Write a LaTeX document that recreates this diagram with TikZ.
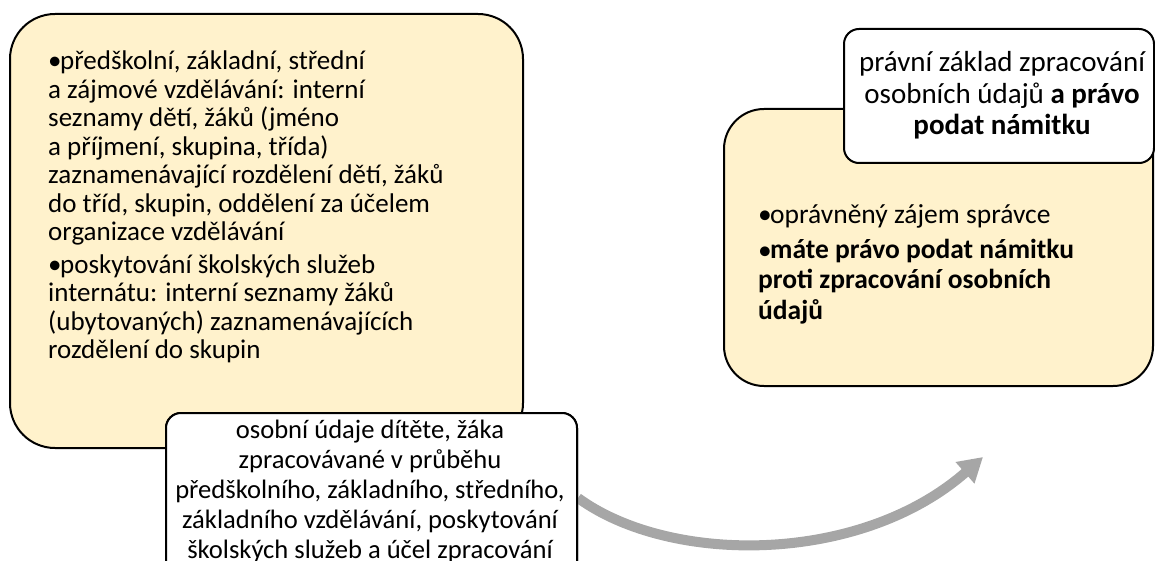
\documentclass[tikz,border=0pt]{standalone}
\usepackage{fontspec}
\setmainfont{Carlito}
\usetikzlibrary{arrows.meta}
\definecolor{beige}{HTML}{FFF2CC}
\definecolor{arrowgray}{HTML}{A6A6A6}
\newcommand{\bitem}[2]{\par\noindent\hangindent=#1\hangafter=1\makebox[#1][l]{•}#2\par}
\begin{document}
\begin{tikzpicture}[x=1pt,y=-1pt,
  beigebox/.style={draw=black, line width=2pt, fill=beige, rounded corners=45pt, inner sep=0pt, anchor=north west},
  whitebox/.style={draw=black, line width=2pt, fill=white, rounded corners=15pt, inner sep=0pt, anchor=north west},
  txt/.style={inner sep=0pt, anchor=base west},
  ctxt/.style={inner sep=0pt, anchor=base},
  grayarrow/.style={draw=arrowgray, line width=10pt, -{Triangle[width=27pt,length=24pt]}}]
\useasboundingbox (0,0) rectangle (1155,561);
\clip (0,0) rectangle (1155,561);
% left beige box
\node[beigebox, minimum width=513pt, minimum height=434pt] (lb) at (9,13) {};
\node[txt] (ltext) at (48,70) {\parbox[t]{470pt}{\raggedright\fontsize{27}{28.5}\selectfont
\bitem{12pt}{předškolní, základní, střední\\ a zájmové vzdělávání: interní\\ seznamy dětí, žáků (jméno\\ a příjmení, skupina, třída)\\ zaznamenávající rozdělení dětí, žáků\\ do tříd, skupin, oddělení za účelem\\ organizace vzdělávání}\vspace{4pt}
\bitem{12pt}{poskytování školských služeb\\ internátu: interní seznamy žáků\\ (ubytovaných) zaznamenávajících\\ rozdělení do skupin}}};
% arrow
\coordinate (aend) at (983,457);
\node[whitebox, minimum width=411pt, minimum height=170pt] (lw) at (165,412) {};
\draw[grayarrow] (lw.east) .. controls (670,565) and (860,565) .. (aend);
\node[whitebox, minimum width=411pt, minimum height=170pt] (lw2) at (165,412) {};
\node[ctxt] (btext) at (370,438) {\parbox[t]{410pt}{\centering\fontsize{26.6}{30}\selectfont osobní údaje dítěte, žáka\\ zpracovávané v průběhu\\ předškolního, základního, středního,\\ základního vzdělávání, poskytování\\ školských služeb a účel zpracování}};
% right beige box
\node[beigebox, rounded corners=40pt, minimum width=429pt, minimum height=277pt] (rb) at (723,108) {};
\node[txt] (rtext) at (758,223) {\parbox[t]{390pt}{\raggedright\fontsize{27.5}{30}\selectfont
\bitem{12pt}{oprávněný zájem správce}\vspace{6pt}
\bitem{12pt}{\textbf{máte právo podat námitku\\ proti zpracování osobních\\ údajů}}}};
% right white box
\node[whitebox, minimum width=310pt, minimum height=134pt] (rw) at (843,28) {};
\node[ctxt] (wtext) at (1002,72) {\parbox[t]{308pt}{\centering\fontsize{29}{31.5}\selectfont právní základ zpracování\\ osobních údajů \textbf{a právo}\\ \textbf{podat námitku}}};
\end{tikzpicture}
\end{document}
